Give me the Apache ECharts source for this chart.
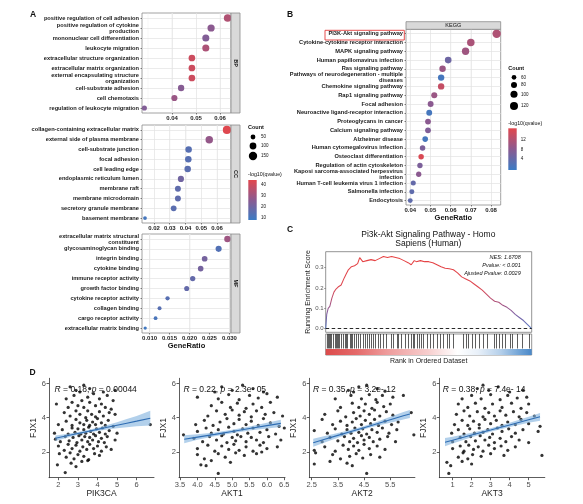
<!DOCTYPE html>
<html><head><meta charset="utf-8">
<script src="https://cdn.jsdelivr.net/npm/echarts@6/dist/echarts.min.js"></script>
<style>html,body{margin:0;padding:0;background:#fff}#c{width:583px;height:504px}</style>
</head><body><div id="c"></div>
<script>
// ---------------- Panel A : GO enrichment ----------------
const bpTerms = ['positive regulation of cell adhesion','positive regulation of cytokine\nproduction','mononuclear cell differentiation','leukocyte migration','extracellular structure organization','extracellular matrix organization','external encapsulating structure\norganization','cell-substrate adhesion','cell chemotaxis','regulation of leukocyte migration'];
const bpRatio = [0.0632,0.0563,0.0541,0.0541,0.0483,0.0483,0.0483,0.0438,0.0410,0.0285];
const bpCount = [126,113,108,108,97,97,97,88,82,57];
const bpQ = [34,26,24,33,40,40,40,25,29,24];

const ccTerms = ['collagen-containing extracellular matrix','external side of plasma membrane','cell-substrate junction','focal adhesion','cell leading edge','endoplasmic reticulum lumen','membrane raft','membrane microdomain','secretory granule membrane','basement membrane'];
const ccRatio = [0.0663,0.0551,0.0420,0.0418,0.0414,0.0371,0.0352,0.0352,0.0325,0.0143];
const ccCount = [146,121,92,92,91,82,77,77,72,31];
const ccQ = [44,28,14,14,15,20,16,16,15,10];

const mfTerms = ['extracellular matrix structural\nconstituent','glycosaminoglycan binding','integrin binding','cytokine binding','immune receptor activity','growth factor binding','cytokine receptor activity','collagen binding','cargo receptor activity','extracellular matrix binding'];
const mfRatio = [0.0295,0.0273,0.0238,0.0228,0.0208,0.0193,0.0145,0.0125,0.0115,0.0089];
const mfCount = [88,81,70,67,61,56,40,34,31,23];
const mfQ = [30,13,21,21,17,17,14,14,11,9];

const bpTicks = [0.04,0.05,0.06];
const ccTicks = [0.02,0.03,0.04,0.05,0.06];
const mfTicks = [0.010,0.015,0.020,0.025,0.030];
const countLegendA = [50,100,150];
const qLegendA = [40,30,20,10];

// ---------------- Panel B : KEGG ----------------
const keggTerms = ['PI3K-Akt signaling pathway','Cytokine-cytokine receptor interaction','MAPK signaling pathway','Human papillomavirus infection','Ras signaling pathway','Pathways of neurodegeneration - multiple\ndiseases','Chemokine signaling pathway','Rap1 signaling pathway','Focal adhesion','Neuroactive ligand-receptor interaction','Proteoglycans in cancer','Calcium signaling pathway','Alzheimer disease','Human cytomegalovirus infection','Osteoclast differentiation','Regulation of actin cytoskeleton','Kaposi sarcoma-associated herpesvirus\ninfection','Human T-cell leukemia virus 1 infection','Salmonella infection','Endocytosis'];
const keggRatio = [0.0828,0.0700,0.0674,0.0588,0.0560,0.0553,0.0553,0.0519,0.0501,0.0494,0.0488,0.0488,0.0474,0.0461,0.0454,0.0448,0.0442,0.0415,0.0408,0.0400];
const keggCount = [130,110,106,92,88,87,87,81,79,78,77,77,74,72,71,70,69,65,64,63];
const keggQ = [11.5,11,10,5,9.5,0.8,13.5,9.5,8,0.8,8,7,0.8,6.5,15.5,6.5,8,4,3.5,3.5];
const keggTicks = [0.04,0.05,0.06,0.07,0.08];
const countLegendB = [60,80,100,120];
const qLegendB = [12,8,4];

// ---------------- Panel C : GSEA ----------------
const gseaRank = [0,0.005,0.012,0.02,0.03,0.04,0.05,0.06,0.075,0.09,0.1,0.11,0.125,0.14,0.155,0.165,0.17,0.18,0.2,0.22,0.24,0.26,0.28,0.3,0.32,0.34,0.36,0.38,0.4,0.415,0.43,0.44,0.46,0.48,0.5,0.52,0.54,0.56,0.58,0.6,0.62,0.64,0.66,0.68,0.7,0.72,0.74,0.76,0.78,0.8,0.82,0.84,0.86,0.88,0.9,0.92,0.94,0.96,0.98,1.0];
const gseaES = [0,0.07,0.10,0.11,0.15,0.18,0.195,0.205,0.215,0.25,0.27,0.29,0.305,0.31,0.32,0.35,0.345,0.33,0.335,0.34,0.335,0.345,0.355,0.35,0.355,0.35,0.345,0.335,0.325,0.315,0.335,0.33,0.335,0.33,0.33,0.325,0.315,0.305,0.298,0.295,0.29,0.275,0.255,0.245,0.235,0.22,0.205,0.19,0.17,0.15,0.135,0.13,0.115,0.105,0.09,0.07,0.055,0.04,0.02,0];
const barcodeHits = [0.007,0.011,0.016,0.021,0.026,0.036,0.044,0.052,0.057,0.063,0.068,0.076,0.085,0.093,0.101,0.106,0.117,0.122,0.130,0.140,0.150,0.158,0.166,0.182,0.193,0.202,0.211,0.223,0.231,0.239,0.255,0.267,0.280,0.296,0.317,0.328,0.348,0.354,0.369,0.385,0.402,0.413,0.423,0.431,0.442,0.455,0.463,0.475,0.491,0.507,0.524,0.543,0.556,0.572,0.589,0.602,0.618,0.670,0.681,0.694,0.711,0.727,0.743,0.767,0.784,0.816,0.828,0.841,0.857,0.873,0.894,0.906,0.930,0.954,0.987];
const gseaTicks = [0,0.1,0.2,0.3];
const gseaTitle = ['Pi3k-Akt Signaling Pathway - Homo','Sapiens (Human)'];
const gseaStats = ['NES: 1.6708','Pvalue: < 0.001','Ajusted Pvalue: 0.0029'];

// ---------------- Panel D : correlations ----------------
const dGenes = ['PIK3CA','AKT1','AKT2','AKT3'];
const dR = ['0.18','0.22','0.35','0.38'];
const dP = ['0.00044','2.3e- 05','3.2e- 12','7.4e- 14'];
const pik3caPts = [[2.6,5.8],[2.9,5.6],[3.3,5.9],[3.6,5.7],[4.3,5.5],[4.9,5.6],[3.1,5.5],
[2.4,5.1],[2.8,5.3],[3.2,5.0],[3.5,5.2],[3.8,5.4],[4.1,5.1],[4.5,5.3],[4.8,5.0],
[1.9,4.8],[2.5,4.6],[2.7,4.9],[3.0,4.7],[3.3,4.6],[3.6,4.9],[3.9,4.7],[4.2,4.8],[4.4,4.6],[4.7,4.5],
[2.3,4.3],[2.6,4.1],[2.9,4.4],[3.1,4.2],[3.4,4.0],[3.5,4.4],[3.7,4.2],[3.9,4.05],[4.1,4.35],[4.3,4.1],[4.6,4.3],[4.9,4.2],
[2.0,3.6],[2.4,3.8],[2.7,3.55],[2.9,3.9],[3.1,3.7],[3.3,3.6],[3.45,3.85],[3.6,3.55],[3.75,3.75],[3.9,3.6],[4.0,3.95],[4.2,3.7],[4.4,3.55],[4.55,3.85],[4.8,3.5],[6.7,3.6],
[1.8,3.1],[2.2,3.3],[2.5,3.05],[2.7,3.4],[2.85,3.15],[3.0,3.35],[3.15,3.05],[3.3,3.3],[3.4,3.1],[3.55,3.45],[3.65,3.2],[3.8,3.05],[3.95,3.35],[4.1,3.15],[4.25,3.4],[4.4,3.05],[4.6,3.25],[5.0,3.1],
[1.85,2.75],[2.1,2.6],[2.35,2.9],[2.55,2.65],[2.75,2.85],[2.95,2.55],[3.05,2.95],[3.2,2.7],[3.35,2.9],[3.5,2.6],[3.6,2.85],[3.75,2.7],[3.9,2.95],[4.05,2.6],[4.2,2.8],[4.35,2.55],[4.5,2.9],[4.9,2.7],
[2.0,2.35],[2.3,2.1],[2.5,2.45],[2.7,2.2],[2.9,2.4],[3.1,2.05],[3.25,2.3],[3.45,2.15],[3.6,2.45],[3.8,2.2],[4.0,2.35],[4.2,2.05],[4.45,2.3],[4.7,2.15],
[2.05,1.9],[2.4,1.7],[2.6,1.95],[2.8,1.6],[3.0,1.85],[3.3,1.75],[3.55,1.55],[3.85,1.9],[4.1,1.8],
[1.95,1.25],[2.35,0.8],[2.65,1.35],[2.9,1.15],[3.2,1.45],[3.5,1.5]];
const akt1Pts = [[4.7,5.8],[5.0,5.6],[5.3,5.9],[5.6,5.7],[5.9,5.5],[4.5,5.5],
[4.0,5.2],[4.6,5.1],[4.9,5.35],[5.2,5.05],[5.5,5.3],[5.75,5.15],[6.0,5.4],[6.3,5.2],
[4.4,4.7],[4.7,4.9],[4.95,4.6],[5.15,4.85],[5.4,4.55],[5.6,4.8],[5.85,4.6],[6.1,4.9],
[4.3,4.1],[4.55,4.4],[4.8,4.2],[5.0,4.45],[5.2,4.15],[5.35,4.35],[5.55,4.05],[5.7,4.4],[5.95,4.2],[6.2,4.3],[6.45,4.1],
[3.95,3.6],[4.2,3.85],[4.45,3.55],[4.65,3.75],[4.85,3.95],[5.05,3.65],[5.2,3.9],[5.4,3.6],[5.55,3.8],[5.75,3.55],[5.9,3.95],[6.1,3.7],[6.35,3.5],
[3.6,3.0],[4.0,3.2],[4.25,3.4],[4.4,3.1],[4.6,3.3],[4.75,3.05],[4.9,3.45],[5.05,3.2],[5.15,3.0],[5.3,3.35],[5.45,3.1],[5.6,3.4],[5.8,3.15],[6.0,3.3],[6.25,3.05],[6.5,3.4],
[3.9,2.8],[4.15,2.6],[4.35,2.9],[4.55,2.7],[4.7,2.95],[4.85,2.55],[5.0,2.85],[5.1,2.65],[5.25,2.9],[5.4,2.6],[5.55,2.85],[5.7,2.7],[5.9,2.55],[6.05,2.9],[6.4,2.7],
[4.0,2.2],[4.3,2.4],[4.5,2.05],[4.7,2.35],[4.9,2.15],[5.05,2.45],[5.2,2.1],[5.4,2.3],[5.6,2.05],[5.8,2.4],[6.0,2.2],[6.3,2.3],
[4.0,1.85],[4.2,1.6],[4.6,1.9],[4.8,1.7],[5.1,1.95],[5.35,1.8],[5.7,1.9],[5.85,2.0],
[4.1,1.25],[4.25,1.2],[4.4,1.5],[4.6,0.75],[4.95,1.4]];
const akt2Pts = [[3.9,5.6],[4.3,5.8],[4.6,5.9],[5.0,5.7],[5.3,5.55],[4.1,5.5],
[3.4,5.1],[4.0,5.3],[4.4,5.1],[4.7,5.35],[4.95,5.05],[5.2,5.3],[5.6,5.2],[6.0,5.3],
[3.6,4.6],[4.05,4.85],[4.3,4.6],[4.55,4.8],[4.8,4.55],[5.0,4.9],[5.25,4.65],[5.5,4.8],
[3.0,4.2],[3.5,4.4],[3.8,4.05],[4.1,4.3],[4.35,4.1],[4.5,4.4],[4.7,4.2],[4.9,4.45],[5.1,4.1],[5.35,4.35],[5.6,4.15],[6.3,4.3],
[2.9,3.9],[3.3,3.6],[3.6,3.8],[3.85,3.55],[4.05,3.75],[4.2,3.95],[4.4,3.6],[4.55,3.85],[4.75,3.65],[4.9,3.9],[5.05,3.55],[5.3,3.8],[5.55,3.6],[5.8,3.75],
[2.6,3.25],[3.1,3.1],[3.4,3.35],[3.65,3.05],[3.85,3.3],[4.0,3.1],[4.15,3.4],[4.3,3.15],[4.45,3.35],[4.6,3.05],[4.8,3.3],[5.0,3.15],[5.2,3.4],[5.45,3.1],[5.75,3.3],[6.4,3.0],
[2.9,2.6],[3.2,2.85],[3.5,2.65],[3.75,2.9],[3.95,2.6],[4.1,2.8],[4.25,2.55],[4.4,2.95],[4.5,2.7],[4.7,2.85],[4.85,2.6],[5.1,2.75],[5.4,2.9],[5.7,2.6],
[2.6,2.1],[3.0,2.3],[3.4,2.05],[3.7,2.4],[3.9,2.15],[4.1,2.35],[4.3,2.1],[4.5,2.45],[4.7,2.2],[5.0,2.35],[5.3,2.15],
[2.65,1.95],[3.3,1.85],[3.6,1.6],[3.95,1.75],[4.2,1.9],[4.45,1.65],[4.75,1.85],[5.1,1.7],
[2.6,1.3],[3.2,1.45],[3.85,1.35],[4.05,1.2],[4.6,0.75]];
const akt3Pts = [[2.3,5.7],[2.6,5.9],[2.9,5.6],[3.4,5.8],[4.0,5.5],[4.7,5.6],
[1.5,5.1],[2.0,5.3],[2.5,5.1],[3.0,5.35],[3.5,5.05],[3.9,5.3],[4.4,5.15],[4.9,5.2],
[1.3,4.8],[1.8,4.6],[2.2,4.85],[2.7,4.55],[3.1,4.8],[3.6,4.6],[4.1,4.85],[4.6,4.55],[5.0,4.8],
[1.2,4.2],[1.6,4.4],[1.9,4.1],[2.3,4.35],[2.6,4.05],[2.9,4.3],[3.2,4.1],[3.5,4.4],[3.8,4.15],[4.2,4.35],[4.5,4.05],[4.9,4.3],[5.3,4.1],
[1.1,3.6],[1.5,3.85],[1.8,3.55],[2.1,3.8],[2.4,3.6],[2.7,3.9],[3.0,3.65],[3.3,3.85],[3.6,3.55],[3.9,3.75],[4.3,3.6],[4.6,3.9],[5.0,3.65],[5.6,3.5],
[0.95,3.1],[1.3,3.3],[1.6,3.05],[1.9,3.35],[2.15,3.1],[2.4,3.4],[2.6,3.15],[2.85,3.3],[3.1,3.05],[3.35,3.4],[3.6,3.2],[3.95,3.35],[4.3,3.1],[4.7,3.3],[5.5,3.2],
[1.0,2.6],[1.4,2.85],[1.7,2.6],[1.95,2.9],[2.2,2.65],[2.45,2.95],[2.7,2.7],[2.95,2.85],[3.2,2.55],[3.5,2.8],[3.8,2.6],[4.1,2.9],[4.5,2.7],[5.0,2.55],
[1.0,2.2],[1.4,2.35],[1.6,2.05],[1.85,2.4],[2.1,2.15],[2.35,2.3],[2.6,2.05],[2.9,2.4],[3.2,2.2],[3.55,2.35],[3.9,2.1],[4.3,2.3],
[1.3,1.7],[1.55,1.95],[1.8,1.6],[2.05,1.85],[2.5,1.75],[3.0,1.9],[3.7,1.8],[5.7,1.8],
[0.7,1.4],[0.8,0.75],[0.9,1.2],[1.5,1.45],[2.0,1.3]];
const dPoints = [pik3caPts, akt1Pts, akt2Pts, akt3Pts];
// regression lines and confidence bands
const fitX = [[1.85,2.5,3.0,3.5,4.0,4.5,5.0,5.5,6.0,6.7],[3.62,4.0,4.5,5.0,5.5,6.0,6.4],[2.56,3.0,3.5,4.0,4.5,5.0,5.5,6.0,6.25],[0.6,1,2,3,4,5,5.6]];
const fitY = [[2.80,2.96,3.08,3.20,3.32,3.44,3.56,3.68,3.80,3.97],[2.74,2.87,3.03,3.20,3.37,3.54,3.67],[2.54,2.74,2.97,3.20,3.42,3.65,3.88,4.11,4.22],[2.57,2.69,2.99,3.28,3.58,3.88,4.06]];
const fitLo = [[2.64,2.85,3.00,3.12,3.22,3.31,3.38,3.44,3.50,3.55],[2.51,2.71,2.92,3.10,3.25,3.37,3.46],[2.30,2.55,2.83,3.10,3.33,3.53,3.71,3.89,3.99],[2.33,2.49,2.86,3.18,3.46,3.70,3.83]];
const fitHi = [[2.96,3.07,3.16,3.28,3.42,3.57,3.74,3.92,4.10,4.40],[2.97,3.03,3.14,3.30,3.49,3.71,3.88],[2.78,2.93,3.11,3.30,3.51,3.77,4.05,4.33,4.45],[2.81,2.89,3.12,3.38,3.70,4.06,4.28]];
const dXTicks = [[2,3,4,5,6],[3.5,4.0,4.5,5.0,5.5,6.0,6.5],[2.5,3.5,4.5,5.5],[1,2,3,4,5]];
const dYTicks = [2,4,6];

// ---------------- layout / style ----------------
const FONT = 'Liberation Sans, Arial, Helvetica, sans-serif';
const LOW = '#3b7bc4', MID = '#8b5a90', HIGH = '#e2474d';
const sizeA = c => 0.68 * Math.sqrt(c);
const sizeB = c => Math.sqrt(Math.max(1, 0.7 * c - 20));
const BORDER = '#8a8a8a';

const gridDefs = [
  {left:142, top:13, width:89, height:100},
  {left:142, top:125, width:89, height:98},
  {left:142, top:234, width:89, height:99},
  {left:406, top:29.3, width:94.7, height:175.7},
  {left:325.7, top:251.7, width:206, height:80.6},
  {left:325.7, top:334, width:206, height:21},
  {left:49, top:378.3, width:105, height:99.4},
  {left:179, top:378.3, width:106, height:99.4},
  {left:309.3, top:378.3, width:105.6, height:99.4},
  {left:439.3, top:378.3, width:105.5, height:99.4}
];
const grid = gridDefs.map((g, i) => Object.assign({
  show: i < 6, borderColor: i === 4 || i === 5 ? '#777' : BORDER, borderWidth: 0.8,
  backgroundColor: '#fff', containLabel: false, outerBoundsMode: 'none'
}, g));

const xRanges = [[0.0275,0.0646],[0.0124,0.0689],[0.0081,0.0304],[0.0379,0.0848]];

function minorLines(min, max, step, majors) {
  const out = [];
  for (let k = Math.ceil(min / step - 1e-9); k * step <= max + 1e-12; k++) {
    const v = +(k * step).toFixed(5);
    if (!majors.some(m => Math.abs(m - v) < 1e-9)) out.push(v);
  }
  return out;
}

const xAxis = [], yAxis = [], series = [];
const enrich = [
  {terms: bpTerms, ratio: bpRatio, count: bpCount, q: bpQ, ticks: bpTicks, minorStep: 0.005, dec: 2, size: sizeA},
  {terms: ccTerms, ratio: ccRatio, count: ccCount, q: ccQ, ticks: ccTicks, minorStep: 0.005, dec: 2, size: sizeA},
  {terms: mfTerms, ratio: mfRatio, count: mfCount, q: mfQ, ticks: mfTicks, minorStep: 0.0025, dec: 3, size: sizeA, name: 'GeneRatio'},
  {terms: keggTerms, ratio: keggRatio, count: keggCount, q: keggQ, ticks: keggTicks, minorStep: 0.005, dec: 2, size: sizeB, name: 'GeneRatio'}
];
enrich.forEach((e, i) => {
  const [mn, mx] = xRanges[i];
  xAxis.push({
    gridIndex: i, type: 'value', min: mn, max: mx,
    axisLine: {show: false, onZero: false},
    axisTick: {show: true, length: 1.5, customValues: e.ticks, lineStyle: {color: '#333', width: 0.6}},
    axisLabel: {customValues: e.ticks, formatter: v => v.toFixed(e.dec), fontSize: 6, fontWeight: 'bold', color: '#222', margin: 2, fontFamily: FONT},
    splitLine: {show: false},
    name: e.name || '', nameLocation: 'middle', nameGap: 9,
    nameTextStyle: {fontSize: 7.5, fontWeight: 'bold', color: '#111', fontFamily: FONT}
  });
  yAxis.push({
    gridIndex: i, type: 'category', data: e.terms, inverse: true,
    axisLine: {show: false},
    axisTick: {show: true, alignWithLabel: true, length: 1.5, lineStyle: {color: '#333', width: 0.6}},
    axisLabel: {interval: 0, fontSize: 5.7, fontWeight: 'bold', color: '#1a1a1a', margin: 3, lineHeight: 6, fontFamily: FONT},
    splitLine: {show: false}
  });
  const minors = minorLines(mn, mx, e.minorStep, e.ticks);
  series.push({
    type: 'scatter', xAxisIndex: i, yAxisIndex: i, data: [], silent: true,
    markLine: {
      silent: true, symbol: ['none', 'none'], z: 1, animation: false, label: {show: false},
      data: [].concat(
        e.ticks.map(v => ({xAxis: v, lineStyle: {color: '#e2e2e2', width: 0.7, type: 'solid'}})),
        minors.map(v => ({xAxis: v, lineStyle: {color: '#efefef', width: 0.45, type: 'solid'}})),
        e.terms.map(t => ({yAxis: t, lineStyle: {color: '#e2e2e2', width: 0.7, type: 'solid'}}))
      )
    }
  });
  series.push({
    type: 'scatter', xAxisIndex: i, yAxisIndex: i, z: 3,
    data: e.terms.map((t, k) => [e.ratio[k], t, e.q[k], e.count[k]]),
    symbolSize: v => e.size(v[3]),
    itemStyle: {opacity: 1}
  });
});

// Panel C axes
xAxis.push({gridIndex: 4, type: 'value', min: 0, max: 1, show: false});
yAxis.push({
  gridIndex: 4, type: 'value', min: -0.018, max: 0.379,
  axisLine: {show: false},
  axisTick: {show: true, length: 1.5, customValues: gseaTicks, lineStyle: {color: '#555', width: 0.6}},
  axisLabel: {customValues: gseaTicks, formatter: v => v.toFixed(1), fontSize: 6, color: '#555', margin: 2, fontFamily: FONT},
  splitLine: {show: false},
  name: 'Running Enrichment Score', nameLocation: 'middle', nameGap: 12, nameRotate: 90,
  nameTextStyle: {fontSize: 7, color: '#222', fontFamily: FONT}
});
xAxis.push({
  gridIndex: 5, type: 'value', min: 0, max: 1,
  axisLine: {show: false}, axisTick: {show: false}, axisLabel: {show: false}, splitLine: {show: false},
  name: 'Rank in Ordered Dataset', nameLocation: 'middle', nameGap: 2.5,
  nameTextStyle: {fontSize: 7, color: '#222', fontFamily: FONT}
});
yAxis.push({gridIndex: 5, type: 'value', min: 0, max: 1, show: false});

series.push({
  type: 'line', xAxisIndex: 4, yAxisIndex: 4, z: 3,
  data: gseaRank.map((r, k) => [r, gseaES[k]]),
  symbol: 'none', showSymbol: false,
  lineStyle: {width: 1.05, color: {type: 'linear', global: true, x: 0, y: 251.7, x2: 0, y2: 332.3, colorStops: [
    {offset: 0, color: '#e8403f'}, {offset: 0.45, color: '#dd4852'}, {offset: 0.62, color: '#b0527a'},
    {offset: 0.78, color: '#7e60a4'}, {offset: 1, color: '#4a7dc8'}]}},
  markLine: {
    silent: true, symbol: ['none', 'none'], label: {show: false}, animation: false,
    lineStyle: {color: '#111', type: [3.5, 2.5], width: 0.9},
    data: [{yAxis: 0}]
  }
});
series.push({
  type: 'line', xAxisIndex: 5, yAxisIndex: 5, data: [], silent: true,
  markLine: {
    silent: true, symbol: ['none', 'none'], label: {show: false}, animation: false,
    lineStyle: {color: '#111', width: 0.8, type: 'solid', opacity: 0.85},
    data: barcodeHits.map(h => [{coord: [h, 0.31]}, {coord: [h, 1]}])
  },
  markArea: {
    silent: true, animation: false,
    itemStyle: {color: {type: 'linear', x: 0, y: 0, x2: 1, y2: 0, colorStops: [
      {offset: 0, color: '#dc4b4b'}, {offset: 0.15, color: '#e46a6a'}, {offset: 0.3, color: '#ee9c9c'},
      {offset: 0.5, color: '#f7cfcf'}, {offset: 0.64, color: '#ffffff'}, {offset: 0.74, color: '#e8f0f9'},
      {offset: 0.85, color: '#b4cfea'}, {offset: 0.95, color: '#6a9fd4'}, {offset: 1, color: '#4a88c8'}]}},
    data: [[{coord: [0, 0]}, {coord: [1, 0.29]}]]
  }
});

// Panel D
const dXRange = [[1.52,6.89],[3.47,6.52],[2.41,6.44],[0.3,5.85]];
dGenes.forEach((g, p) => {
  const gi = 6 + p;
  const dec = p === 1 || p === 2 ? 1 : 0;
  xAxis.push({
    gridIndex: gi, type: 'value', min: dXRange[p][0], max: dXRange[p][1],
    axisLine: {show: true, onZero: false, lineStyle: {color: '#333', width: 0.8}},
    axisTick: {show: true, length: 2.5, customValues: dXTicks[p], lineStyle: {color: '#333', width: 0.8}},
    axisLabel: {customValues: dXTicks[p], formatter: v => v.toFixed(dec), fontSize: 7.5, color: '#4d4d4d', margin: 3, fontFamily: FONT},
    splitLine: {show: false},
    name: g, nameLocation: 'middle', nameGap: 10,
    nameTextStyle: {fontSize: 8.5, color: '#222', fontFamily: FONT}
  });
  yAxis.push({
    gridIndex: gi, type: 'value', min: 0.5, max: 6.3,
    axisLine: {show: true, onZero: false, lineStyle: {color: '#333', width: 0.8}},
    axisTick: {show: true, length: 2.5, customValues: dYTicks, lineStyle: {color: '#333', width: 0.8}},
    axisLabel: {customValues: dYTicks, fontSize: 7.5, color: '#4d4d4d', margin: 3, fontFamily: FONT},
    splitLine: {show: false},
    name: 'FJX1', nameLocation: 'middle', nameGap: 8, nameRotate: 90,
    nameTextStyle: {fontSize: 8.5, color: '#222', fontFamily: FONT}
  });
  series.push({type: 'scatter', xAxisIndex: gi, yAxisIndex: gi, z: 2, data: dPoints[p], symbolSize: 3.2, itemStyle: {color: '#000'}});
  series.push({
    type: 'custom', xAxisIndex: gi, yAxisIndex: gi, z: 3, silent: true,
    data: fitX[p].map((x, k) => [x, fitLo[p][k], fitHi[p][k]]),
    encode: {x: 0, y: [1, 2]},
    renderItem: (params, api) => {
      if (params.dataIndex !== 0) return null;
      const up = fitX[p].map((x, k) => api.coord([x, fitHi[p][k]]));
      const lo = fitX[p].map((x, k) => api.coord([x, fitLo[p][k]])).reverse();
      return {type: 'polygon', shape: {points: up.concat(lo)}, style: {fill: '#7fb0dd', opacity: 0.6}};
    }
  });
  series.push({type: 'line', xAxisIndex: gi, yAxisIndex: gi, z: 4, symbol: 'none',
    data: fitX[p].map((x, k) => [x, fitY[p][k]]), lineStyle: {color: '#2f6db3', width: 1.1}});
});

// ---------------- graphic annotations ----------------
const T = (x, y, text, font, align, valign, extra) => Object.assign({
  type: 'text', x: x, y: y, z: 20,
  style: {text: text, font: font, fill: '#111', textAlign: align || 'left', textVerticalAlign: valign || 'middle'}
}, extra || {});
const els = [];
els.push(T(33, 15, 'A', 'bold 8.5px ' + FONT, 'center'));
els.push(T(290, 15, 'B', 'bold 8.5px ' + FONT, 'center'));
els.push(T(290, 230, 'C', 'bold 8.5px ' + FONT, 'center'));
els.push(T(32.5, 373, 'D', 'bold 8.5px ' + FONT, 'center'));
[['BP', 13, 100], ['CC', 125, 98], ['MF', 234, 99]].forEach(s => {
  els.push({type: 'rect', z: 10, shape: {x: 231, y: s[1], width: 9, height: s[2]}, style: {fill: '#d9d9d9', stroke: BORDER, lineWidth: 0.8}});
  els.push(T(235.5, s[1] + s[2] / 2, s[0], 'bold 5.5px ' + FONT, 'center', 'middle', {rotation: -Math.PI / 2}));
});
els.push({type: 'rect', z: 10, shape: {x: 406, y: 21.7, width: 94.7, height: 7.6}, style: {fill: '#d9d9d9', stroke: BORDER, lineWidth: 0.8}});
els.push(T(453.3, 25.6, 'KEGG', '5.5px ' + FONT, 'center'));
els.push({type: 'rect', z: 10, shape: {x: 325, y: 30.3, width: 79.3, height: 9.7}, style: {fill: 'none', stroke: '#e23b3b', lineWidth: 0.9}});
els.push(T(248, 127, 'Count', 'bold 5.5px ' + FONT));
[137, 146, 156].forEach((y, k) => {
  els.push({type: 'circle', z: 10, shape: {cx: 253, cy: y, r: sizeA(countLegendA[k]) / 2}, style: {fill: '#000'}});
  els.push(T(261, y, String(countLegendA[k]), '4.5px ' + FONT));
});
const cbar = (x, y, w, h) => ({type: 'rect', z: 10, shape: {x: x, y: y, width: w, height: h},
  style: {fill: {type: 'linear', x: 0, y: 0, x2: 0, y2: 1, colorStops: [{offset: 0, color: HIGH}, {offset: 0.5, color: MID}, {offset: 1, color: LOW}]}}});
els.push(T(248, 175, '-log10(qvalue)', '5.3px ' + FONT));
els.push(cbar(248.3, 180, 8.4, 40));
qLegendA.forEach(v => els.push(T(261, 220 - (v - 7.5) / (44.6 - 7.5) * 40, String(v), '4.5px ' + FONT)));
els.push(T(508.3, 68.3, 'Count', 'bold 5.5px ' + FONT));
[77.3, 85, 94.3, 106].forEach((y, k) => {
  els.push({type: 'circle', z: 10, shape: {cx: 514, cy: y, r: sizeB(countLegendB[k]) / 2}, style: {fill: '#000'}});
  els.push(T(521, y, String(countLegendB[k]), '4.5px ' + FONT));
});
els.push(T(508.3, 123.3, '-log10(qvalue)', '5.3px ' + FONT));
els.push(cbar(508.3, 128.3, 8.4, 41.7));
qLegendB.forEach(v => els.push(T(520.7, 170 - (v + 0.3) / 16.7 * 41.7, String(v), '4.5px ' + FONT)));
els.push(T(428.3, 234.3, gseaTitle[0], '8.5px ' + FONT, 'center'));
els.push(T(428.3, 244, gseaTitle[1], '8.5px ' + FONT, 'center'));
[257.3, 265.5, 273.5].forEach((y, k) => els.push(T(520.7, y, gseaStats[k], 'italic 5.5px ' + FONT, 'right')));
[54.6, 183.4, 313, 442.8].forEach((x, p) => {
  els.push({type: 'text', x: x, y: 390, z: 20, style: {
    text: '{i|R} = ' + dR[p] + ', {i|p} = ' + dP[p], font: '8.5px ' + FONT, fill: '#111',
    textAlign: 'left', textVerticalAlign: 'middle',
    rich: {i: {fontStyle: 'italic', fontSize: 8.5, fontFamily: FONT, fill: '#111'}}
  }});
});

const chart = echarts.init(document.getElementById('c'), null, {renderer: 'canvas'});
chart.setOption({
  animation: false,
  backgroundColor: '#fff',
  textStyle: {fontFamily: FONT},
  grid: grid, xAxis: xAxis, yAxis: yAxis, series: series,
  visualMap: [
    {type: 'continuous', show: false, seriesIndex: [1, 3, 5], dimension: 2, min: 7.5, max: 44.6, inRange: {color: [LOW, MID, HIGH]}},
    {type: 'continuous', show: false, seriesIndex: [7], dimension: 2, min: -0.3, max: 16.4, inRange: {color: [LOW, MID, HIGH]}}
  ],
  graphic: {elements: els}
});
</script></body></html>
